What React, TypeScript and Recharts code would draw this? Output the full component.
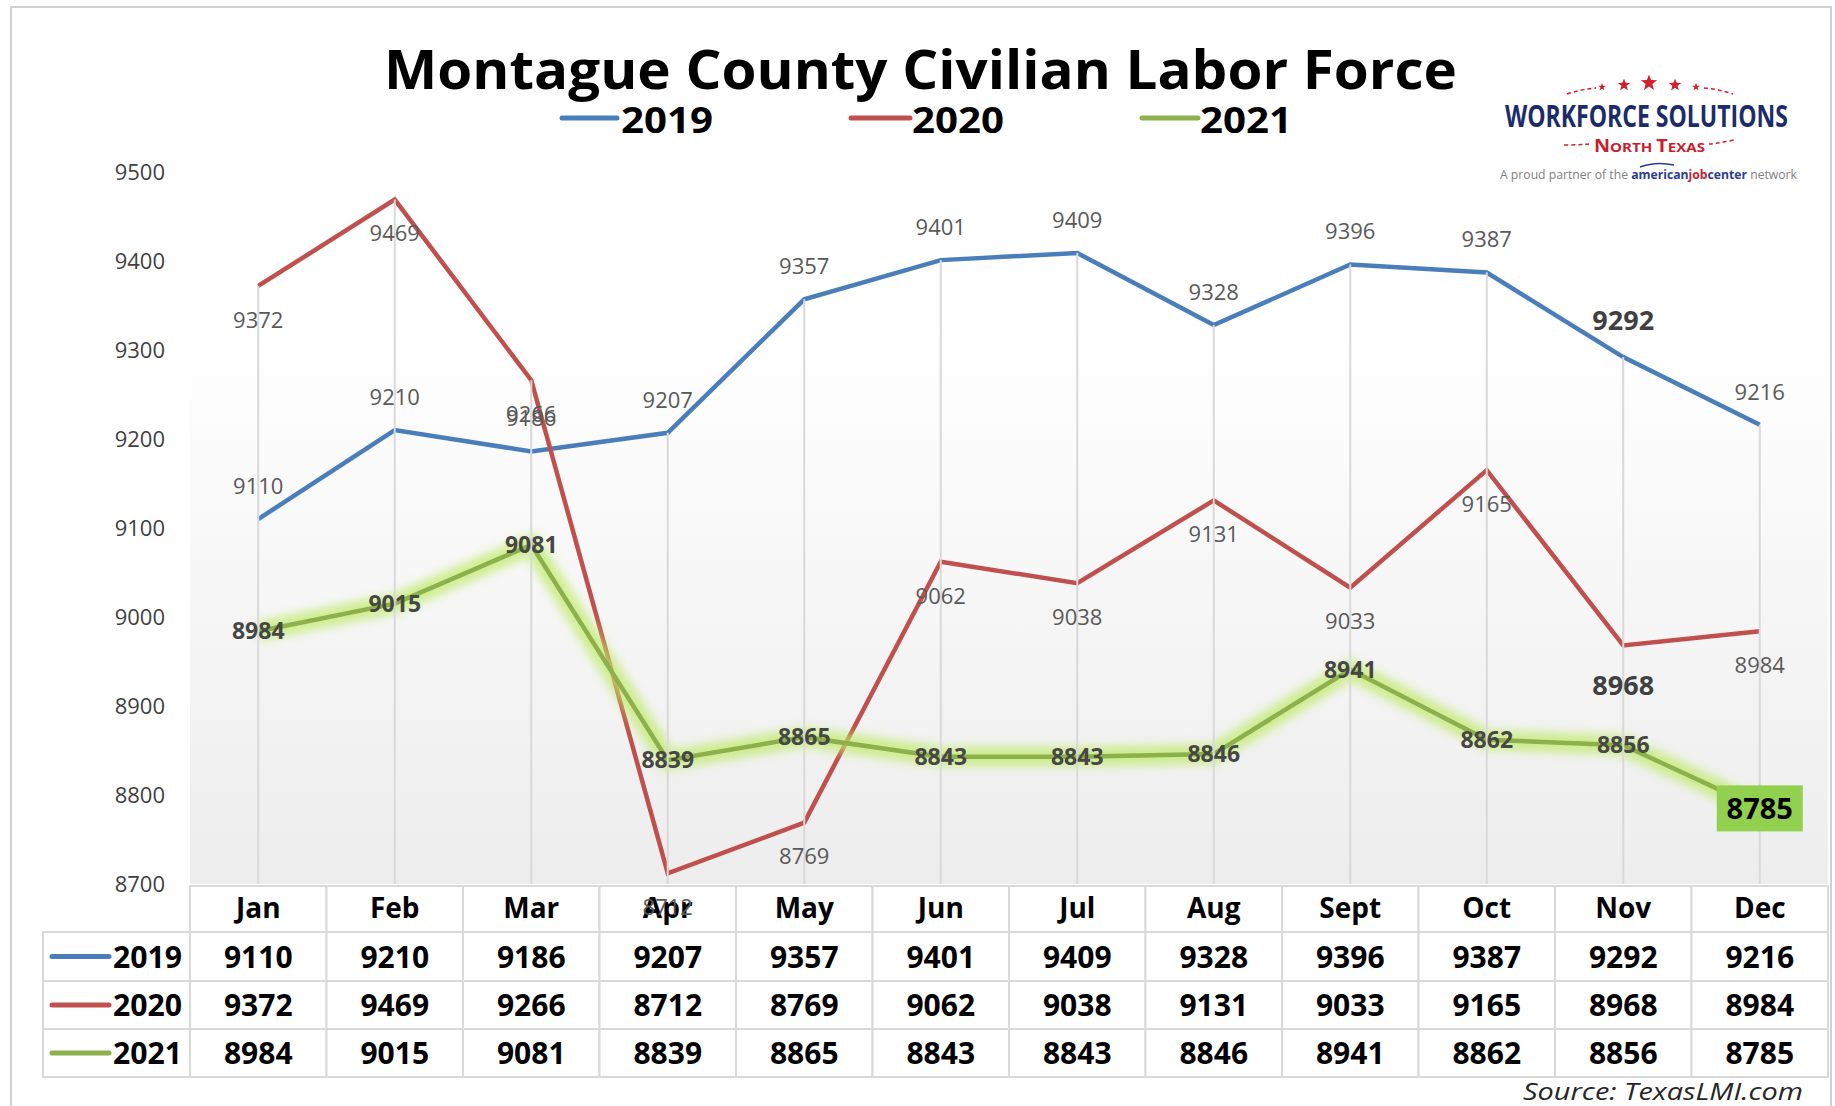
import React from 'react';
import { LineChart, Line, XAxis, YAxis, LabelList } from 'recharts';

// ---------- data ----------
const MONTHS = ['Jan', 'Feb', 'Mar', 'Apr', 'May', 'Jun', 'Jul', 'Aug', 'Sept', 'Oct', 'Nov', 'Dec'];
const Y2019 = [9110, 9210, 9186, 9207, 9357, 9401, 9409, 9328, 9396, 9387, 9292, 9216];
const Y2020 = [9372, 9469, 9266, 8712, 8769, 9062, 9038, 9131, 9033, 9165, 8968, 8984];
const Y2021 = [8984, 9015, 9081, 8839, 8865, 8843, 8843, 8846, 8941, 8862, 8856, 8785];
const Y_TICKS = [8700, 8800, 8900, 9000, 9100, 9200, 9300, 9400, 9500];
const SERIES_NAMES = ['2019', '2020', '2021'];
const TITLE = 'Montague County Civilian Labor Force';
const SOURCE = 'Source: TexasLMI.com';

const data = MONTHS.map((m, i) => ({ month: m, y2019: Y2019[i], y2020: Y2020[i], y2021: Y2021[i] }));
const SERIES_VALUES = [Y2019, Y2020, Y2021];

// ---------- layout / style ----------
const W = 1835;
const H = 1106;
const PLOT_LEFT = 190;
const PLOT_RIGHT = 1828;
const PLOT_TOP = 172;
const PLOT_BOTTOM = 884;
const YAXIS_W = 60;
const XAXIS_H = 30;
const BAND = (PLOT_RIGHT - PLOT_LEFT) / 12;
const FONT = "'Open Sans', 'DejaVu Sans', sans-serif";
const COLORS = ['#4A7EBB', '#C0504D', '#8DB04A'];
const GRID = '#d9d9d9';
const ROWS = [
  { top: 932, bottom: 981 },
  { top: 981, bottom: 1029 },
  { top: 1029, bottom: 1077 },
];
const HEADER = { top: 886, bottom: 932 };

const maxOf = (d: any) => Math.max(d.y2019, d.y2020, d.y2021);

const YTick = (p: any) => (
  <text x={165} y={p.y} dy={8} textAnchor="end" fontSize={22} fill="#3f3f3f" fontFamily={FONT}>
    {p.payload.value}
  </text>
);

const TableTick = (p: any) => {
  const x = p.x;
  const idx = MONTHS.indexOf(p.payload.value);
  return (
    <g>
      <rect x={x - BAND / 2} y={HEADER.top} width={BAND} height={HEADER.bottom - HEADER.top} fill="#fff" stroke={GRID} strokeWidth={2} />
      {ROWS.map((r, k) => (
        <rect key={k} x={x - BAND / 2} y={r.top} width={BAND} height={r.bottom - r.top} fill="#fff" stroke={GRID} strokeWidth={2} />
      ))}
      <text x={x} y={(HEADER.top + HEADER.bottom) / 2 + 9} textAnchor="middle" fontSize={28} fontWeight={700} fill="#000" fontFamily={FONT}>
        {p.payload.value}
      </text>
      {ROWS.map((r, k) => (
        <text key={'t' + k} x={x} y={(r.top + r.bottom) / 2 + 11} textAnchor="middle" fontSize={30} fontWeight={700} fill="#000" fontFamily={FONT}>
          {SERIES_VALUES[k][idx]}
        </text>
      ))}
    </g>
  );
};

const DropDot = (p: any) => (
  <line key={'drop' + p.index} x1={p.cx} x2={p.cx} y1={p.cy} y2={PLOT_BOTTOM} stroke={GRID} strokeWidth={2} />
);

const Label2019 = (p: any) => {
  const big = p.index === 10;
  const fs = big ? 27 : 22;
  return (
    <text x={p.x} y={p.y - (big ? 37 : 33) + fs * 0.357} textAnchor="middle" fontSize={fs} fontWeight={big ? 700 : 400} fill={big ? '#404040' : '#595959'} fontFamily={FONT}>
      {p.value}
    </text>
  );
};

const Label2020 = (p: any) => {
  const big = p.index === 10;
  const fs = big ? 27 : 22;
  return (
    <text x={p.x} y={p.y + (big ? 40 : 34) + fs * 0.357} textAnchor="middle" fontSize={fs} fontWeight={big ? 700 : 400} fill={big ? '#404040' : '#595959'} fontFamily={FONT}>
      {p.value}
    </text>
  );
};

const Label2021 = (p: any) => {
  const last = p.index === 11;
  if (last) {
    return (
      <g>
        <rect x={p.x - 43} y={p.y - 23} width={86} height={46} fill="#92D050" />
        <text x={p.x} y={p.y + 10.5} textAnchor="middle" fontSize={29} fontWeight={700} fill="#000" fontFamily={FONT}>
          {p.value}
        </text>
      </g>
    );
  }
  return (
    <text x={p.x} y={p.y + 8.2} textAnchor="middle" fontSize={23} fontWeight={700} fill="#464646" fontFamily={FONT}>
      {p.value}
    </text>
  );
};

const starPoints = (cx: number, cy: number, r: number) => {
  const pts: string[] = [];
  for (let i = 0; i < 10; i++) {
    const rr = i % 2 === 0 ? r : r * 0.42;
    const a = -Math.PI / 2 + (i * Math.PI) / 5;
    pts.push(`${cx + rr * Math.cos(a)},${cy + rr * Math.sin(a)}`);
  }
  return pts.join(' ');
};

const STARS = [
  { x: 1602, y: 87, r: 4 },
  { x: 1624, y: 85, r: 6.5 },
  { x: 1649, y: 83, r: 8.5 },
  { x: 1675, y: 85, r: 6.5 },
  { x: 1696, y: 87, r: 4 },
];

const LEGEND = [
  { x1: 562, x2: 617, tx: 621 },
  { x1: 851, x2: 910, tx: 912 },
  { x1: 1142, x2: 1198, tx: 1200 },
];

export default function App() {
  return (
    <div style={{ position: 'absolute', left: 0, top: 0, width: W, height: H, background: '#fff', overflow: 'hidden' }}>
      <div
        style={{
          position: 'absolute',
          left: PLOT_LEFT,
          top: 330,
          width: PLOT_RIGHT - PLOT_LEFT,
          height: PLOT_BOTTOM - 330,
          background: 'linear-gradient(to bottom, #ffffff, #ededed)',
        }}
      />
      <div style={{ position: 'absolute', left: 0, top: 0 }}>
        <LineChart
          width={W}
          height={H}
          data={data}
          margin={{ top: PLOT_TOP, right: W - PLOT_RIGHT, bottom: H - PLOT_BOTTOM - XAXIS_H, left: PLOT_LEFT - YAXIS_W }}
        >
          <XAxis
            dataKey="month"
            scale="point"
            padding={{ left: BAND / 2, right: BAND / 2 }}
            axisLine={false}
            tickLine={false}
            height={XAXIS_H}
            interval={0}
            tick={(p: any) => <TableTick {...p} />}
          />
          <YAxis
            domain={[8700, 9500]}
            ticks={Y_TICKS}
            interval={0}
            axisLine={false}
            tickLine={false}
            width={YAXIS_W}
            tick={(p: any) => <YTick {...p} />}
          />
          <Line dataKey={maxOf} stroke="none" dot={DropDot} activeDot={false} isAnimationActive={false} legendType="none" />
          <Line dataKey="y2019" stroke={COLORS[0]} strokeWidth={4.5} dot={false} activeDot={false} isAnimationActive={false}>
            <LabelList dataKey="y2019" content={Label2019} />
          </Line>
          <Line dataKey="y2020" stroke={COLORS[1]} strokeWidth={4.5} dot={false} activeDot={false} isAnimationActive={false}>
            <LabelList dataKey="y2020" content={Label2020} />
          </Line>
          <Line dataKey="y2021" stroke="#bdea66" strokeOpacity={0.7} strokeWidth={20} dot={false} activeDot={false} isAnimationActive={false} filter="url(#glowBlur)" />
          <Line dataKey="y2021" stroke={COLORS[2]} strokeWidth={4.5} dot={false} activeDot={false} isAnimationActive={false}>
            <LabelList dataKey="y2021" content={Label2021} />
          </Line>
        </LineChart>
      </div>
      <svg width={W} height={H} style={{ position: 'absolute', left: 0, top: 0, pointerEvents: 'none' }}>
        <defs>
          <filter id="glowBlur" x="-10%" y="-40%" width="120%" height="180%">
            <feGaussianBlur stdDeviation="5" />
          </filter>
        </defs>
        <rect x={11} y={7} width={1820} height={1200} fill="none" stroke="#d0d0d0" strokeWidth={2} />
        <text x={384} y={89} fontSize={54} fontWeight={700} fill="#000" fontFamily={FONT} textLength={1073} lengthAdjust="spacingAndGlyphs">
          {TITLE}
        </text>
        {LEGEND.map((l, i) => (
          <g key={i}>
            <line x1={l.x1} x2={l.x2} y1={118} y2={118} stroke={COLORS[i]} strokeWidth={5} strokeLinecap="round" />
            <text x={l.tx} y={133} fontSize={36} fontWeight={700} fill="#000" fontFamily={FONT} textLength={92} lengthAdjust="spacingAndGlyphs">
              {SERIES_NAMES[i]}
            </text>
          </g>
        ))}
        {/* logo */}
        {STARS.map((s, i) => (
          <polygon key={i} points={starPoints(s.x, s.y, s.r)} fill="#d0202e" />
        ))}
        <path d="M1567,94 Q1582,89 1596,88" fill="none" stroke="#d0202e" strokeWidth={1.5} strokeDasharray="4 3" />
        <path d="M1704,88 Q1718,89 1733,94" fill="none" stroke="#d0202e" strokeWidth={1.5} strokeDasharray="4 3" />
        <text x={1505} y={127} fontSize={30} fontWeight={700} fill="#1b2b6b" fontFamily={FONT} textLength={283} lengthAdjust="spacingAndGlyphs">
          WORKFORCE SOLUTIONS
        </text>
        <path d="M1564,145 Q1578,145 1590,144" fill="none" stroke="#d0202e" strokeWidth={1.5} strokeDasharray="4 3" />
        <path d="M1709,144 Q1721,143 1734,140" fill="none" stroke="#d0202e" strokeWidth={1.5} strokeDasharray="4 3" />
        <text x={1594} y={152} fontWeight={700} fill="#c8202f" fontFamily={FONT} textLength={111} lengthAdjust="spacingAndGlyphs">
          <tspan fontSize={17}>N</tspan>
          <tspan fontSize={13}>ORTH </tspan>
          <tspan fontSize={17}>T</tspan>
          <tspan fontSize={13}>EXAS</tspan>
        </text>
        <path d="M1640,167 Q1656,161 1674,165" fill="none" stroke="#2b3d8f" strokeWidth={1.5} />
        <text x={1500} y={179} fontSize={12} fill="#808080" fontFamily={FONT} textLength={297} lengthAdjust="spacingAndGlyphs">
          <tspan>A proud partner of the </tspan>
          <tspan fill="#2b3d8f" fontWeight={700}>american</tspan>
          <tspan fill="#c8202f" fontWeight={700}>job</tspan>
          <tspan fill="#2b3d8f" fontWeight={700}>center</tspan>
          <tspan> network</tspan>
        </text>
        {/* table legend column */}
        {ROWS.map((r, i) => (
          <g key={i}>
            <rect x={43} y={r.top} width={PLOT_LEFT - 43} height={r.bottom - r.top} fill="none" stroke={GRID} strokeWidth={2} />
            <line x1={52} x2={109} y1={(r.top + r.bottom) / 2} y2={(r.top + r.bottom) / 2} stroke={COLORS[i]} strokeWidth={5} strokeLinecap="round" />
            <text x={113} y={(r.top + r.bottom) / 2 + 11} fontSize={30} fontWeight={700} fill="#000" fontFamily={FONT} textLength={69} lengthAdjust="spacingAndGlyphs">
              {SERIES_NAMES[i]}
            </text>
          </g>
        ))}
        <text x={1523} y={1100} fontSize={24} fontStyle="italic" fill="#262626" fontFamily={FONT} textLength={280} lengthAdjust="spacingAndGlyphs">
          {SOURCE}
        </text>
      </svg>
    </div>
  );
}
